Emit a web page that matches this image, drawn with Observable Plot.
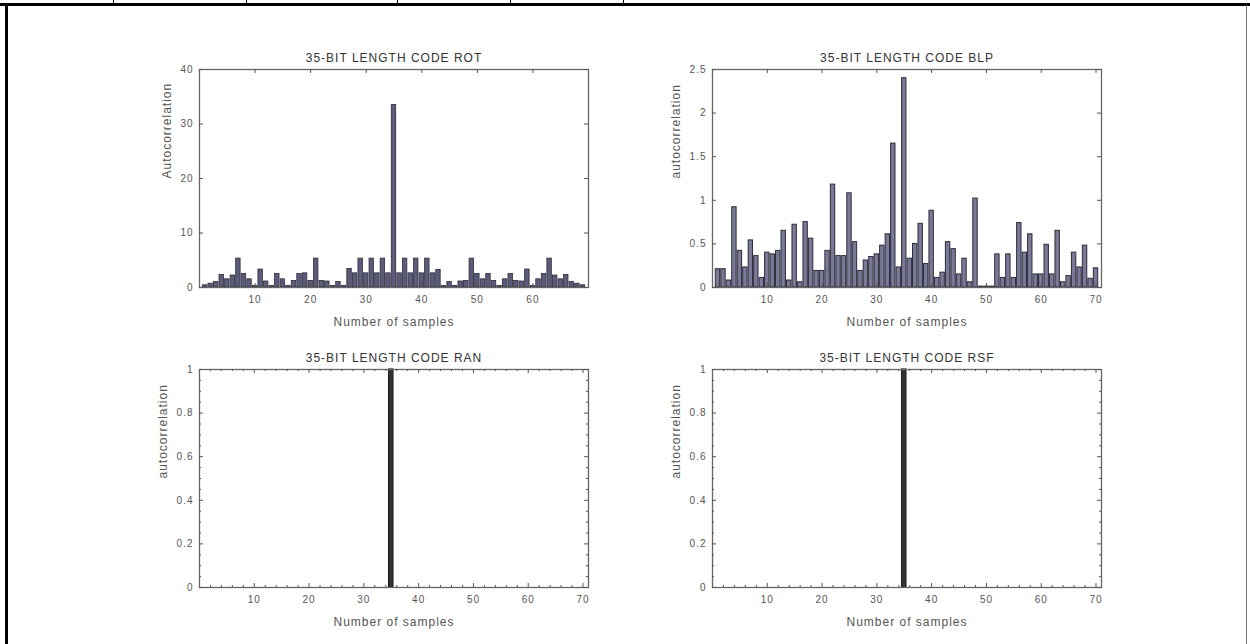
<!DOCTYPE html>
<html><head><meta charset="utf-8">
<script src="https://cdn.jsdelivr.net/npm/d3@7"></script>
<script src="https://cdn.jsdelivr.net/npm/@observablehq/plot@0.6"></script>
<style>
html,body{margin:0;padding:0;background:#fff;}
#page{position:relative;width:1250px;height:644px;overflow:hidden;background:#fff;font-family:"Liberation Sans",Arial,sans-serif;}
.panel{position:absolute;}
.ln{position:absolute;background:#000;}
</style></head><body>
<div id="page">
  <div class="ln" style="left:0;top:3px;width:1250px;height:3px"></div>
  <div class="ln" style="left:113px;top:0;width:1px;height:4px"></div>
  <div class="ln" style="left:246px;top:0;width:1px;height:4px"></div>
  <div class="ln" style="left:397px;top:0;width:1px;height:4px"></div>
  <div class="ln" style="left:510px;top:0;width:1px;height:4px"></div>
  <div class="ln" style="left:623px;top:0;width:1px;height:4px"></div>
  <div class="ln" style="left:5px;top:5px;width:3px;height:639px"></div>
  <div class="ln" style="left:1246px;top:5px;width:1px;height:639px;background:#777"></div>
  <div id="p1" class="panel" style="left:140px;top:40px"></div>
  <div id="p2" class="panel" style="left:652px;top:40px"></div>
  <div id="p3" class="panel" style="left:140px;top:340px"></div>
  <div id="p4" class="panel" style="left:652px;top:340px"></div>
</div>
<script>
// ---- data ----
const titles = ["35-BIT LENGTH CODE ROT", "35-BIT LENGTH CODE BLP", "35-BIT LENGTH CODE RAN", "35-BIT LENGTH CODE RSF"];
const yLabels = ["Autocorrelation", "autocorrelation", "autocorrelation", "autocorrelation"];
const xLabel = "Number of samples";

const valuesROT = [0.4,0.7,1.0,2.3,1.5,2.2,5.3,2.5,1.5,0.3,3.3,1.1,0.3,2.5,1.5,0.3,1.2,2.5,2.6,1.2,
  5.3,1.2,1.1,0.3,1.0,0.3,3.4,2.6,5.3,2.6,5.3,2.6,5.3,2.6,33.5,2.6,5.3,2.6,5.3,2.6,
  5.3,2.6,3.2,0.3,1.0,0.3,1.1,1.2,5.3,2.5,1.5,2.5,1.2,0.3,1.5,2.5,1.2,1.1,3.3,0.3,
  1.5,2.5,5.3,2.2,1.5,2.3,1.0,0.7,0.4];
const valuesBLP = [0.21,0.21,0.08,0.92,0.42,0.23,0.54,0.36,0.11,0.40,0.38,0.42,0.65,0.08,0.72,0.06,0.75,0.56,0.19,0.19,
  0.42,1.18,0.36,0.36,1.08,0.52,0.19,0.31,0.35,0.38,0.48,0.61,1.65,0.23,2.40,0.33,0.50,0.73,0.27,0.88,
  0.11,0.17,0.52,0.44,0.15,0.33,0.06,1.02,0.01,0.01,0.01,0.38,0.11,0.38,0.11,0.74,0.40,0.61,0.15,0.15,
  0.49,0.15,0.65,0.06,0.13,0.40,0.23,0.48,0.10,0.22];
const valuesRAN = [0,0,0,0,0,0,0,0,0,0,0,0,0,0,0,0,0,0,0,0,0,0,0,0,0,0,0,0,0,0,0,0,0,0,1,
  0,0,0,0,0,0,0,0,0,0,0,0,0,0,0,0,0,0,0,0,0,0,0,0,0,0,0,0,0,0,0,0,0,0];
const valuesRSF = [0,0,0,0,0,0,0,0,0,0,0,0,0,0,0,0,0,0,0,0,0,0,0,0,0,0,0,0,0,0,0,0,0,0,1,
  0,0,0,0,0,0,0,0,0,0,0,0,0,0,0,0,0,0,0,0,0,0,0,0,0,0,0,0,0,0,0,0,0,0];

const xTicksTL = [10,20,30,40,50,60];
const xTicks = [10,20,30,40,50,60,70];
const yTicksROT = [0,10,20,30,40];
const yTicksBLP = [0,0.5,1,1.5,2,2.5];
const yTicksUnit = [0,0.2,0.4,0.6,0.8,1];
const xMinor = [2,4,6,8,12,14,16,18,22,24,26,28,32,34,36,38,42,44,46,48,52,54,56,58,62,64,66,68];
const yMinor = [0.05,0.1,0.15,0.25,0.3,0.35,0.45,0.5,0.55,0.65,0.7,0.75,0.85,0.9,0.95];

function toRows(vals){ return vals.map((v,k)=>({i:k+1, v})); }

function panel(cfg){
  const W = 500, H = 300;
  const ml = cfg.fx0 - cfg.left, mr = W - (cfg.fx1 - cfg.left);
  const mt = cfg.fy0 - cfg.top, mb = H - (cfg.fy1 - cfg.top);
  const fw = cfg.fx1 - cfg.fx0, fh = cfg.fy1 - cfg.fy0;
  const tc = "#555";
  const marks = [
    Plot.rectY(toRows(cfg.values), {x1: d=>d.i-0.4, x2: d=>d.i+0.4, y: "v", fill: cfg.fill, stroke: cfg.stroke, strokeWidth: cfg.sw}),
    Plot.frame({stroke: "#666", strokeWidth: 1.3}),
    Plot.tickX(cfg.xTicks, {x: d=>d, insetTop: fh-4, stroke: tc}),
    Plot.tickX(cfg.xTicks, {x: d=>d, insetBottom: fh-4, stroke: tc}),
    Plot.tickY(cfg.yTicks, {y: d=>d, insetRight: fw-4, stroke: tc}),
    Plot.tickY(cfg.yTicks, {y: d=>d, insetLeft: fw-4, stroke: tc}),
    Plot.axisX(cfg.xTicks, {anchor: "bottom", tickSize: 0, tickPadding: 8, fontSize: 10, fill: "#555", label: null}),
    Plot.axisY(cfg.yTicks, {anchor: "left", tickSize: 0, tickPadding: 6, fontSize: 10, fill: "#555", label: null, tickFormat: d=>String(d)}),
    Plot.text([cfg.title], {frameAnchor: "top", dy: -11, fontSize: 12, fill: "#333", lineAnchor: "middle", style: ""}),
    Plot.text([xLabel], {frameAnchor: "bottom", dy: 35, fontSize: 12, fill: "#555", lineAnchor: "middle"}),
    Plot.text([cfg.ylabel], {frameAnchor: "left", dx: cfg.ylDx, rotate: -90, fontSize: 12, fill: "#555", lineAnchor: "middle"})
  ];
  if (cfg.minor) {
    marks.push(
      Plot.tickX(xMinor, {x: d=>d, insetTop: fh-2, stroke: tc}),
      Plot.tickX(xMinor, {x: d=>d, insetBottom: fh-2, stroke: tc}),
      Plot.tickY(yMinor, {y: d=>d, insetRight: fw-2, stroke: tc}),
      Plot.tickY(yMinor, {y: d=>d, insetLeft: fw-2, stroke: tc})
    );
  }
  const svg = Plot.plot({
    width: W, height: H,
    marginLeft: ml, marginRight: mr, marginTop: mt, marginBottom: mb,
    style: {background: "#fff", fontFamily: "'Liberation Sans', Arial, sans-serif", letterSpacing: "1px"},
    x: {domain: cfg.xDomain},
    y: {domain: cfg.yDomain},
    marks
  });
  document.getElementById(cfg.el).appendChild(svg);
}

panel({el: "p1", left: 140, top: 40, fx0: 199, fx1: 588, fy0: 69, fy1: 287,
  values: valuesROT, xDomain: [0,70], yDomain: [0,40], xTicks: xTicksTL, yTicks: yTicksROT,
  title: titles[0], ylabel: yLabels[0], ylDx: -32, fill: "#5c5c7a", stroke: "#2c2c3a", sw: 0.8, minor: false});
panel({el: "p2", left: 652, top: 40, fx0: 712, fx1: 1101, fy0: 69, fy1: 287,
  values: valuesBLP, xDomain: [0,71], yDomain: [0,2.5], xTicks: xTicks, yTicks: yTicksBLP,
  title: titles[1], ylabel: yLabels[1], ylDx: -36, fill: "#7a7a98", stroke: "#2c2c3a", sw: 1, minor: false});
panel({el: "p3", left: 140, top: 340, fx0: 199, fx1: 588, fy0: 369, fy1: 587,
  values: valuesRAN, xDomain: [0,71], yDomain: [0,1], xTicks: xTicks, yTicks: yTicksUnit,
  title: titles[2], ylabel: yLabels[2], ylDx: -36, fill: "#333", stroke: "#222", sw: 1.2, minor: true});
panel({el: "p4", left: 652, top: 340, fx0: 712, fx1: 1101, fy0: 369, fy1: 587,
  values: valuesRSF, xDomain: [0,71], yDomain: [0,1], xTicks: xTicks, yTicks: yTicksUnit,
  title: titles[3], ylabel: yLabels[3], ylDx: -36, fill: "#333", stroke: "#222", sw: 1.2, minor: true});
</script>
</body></html>
